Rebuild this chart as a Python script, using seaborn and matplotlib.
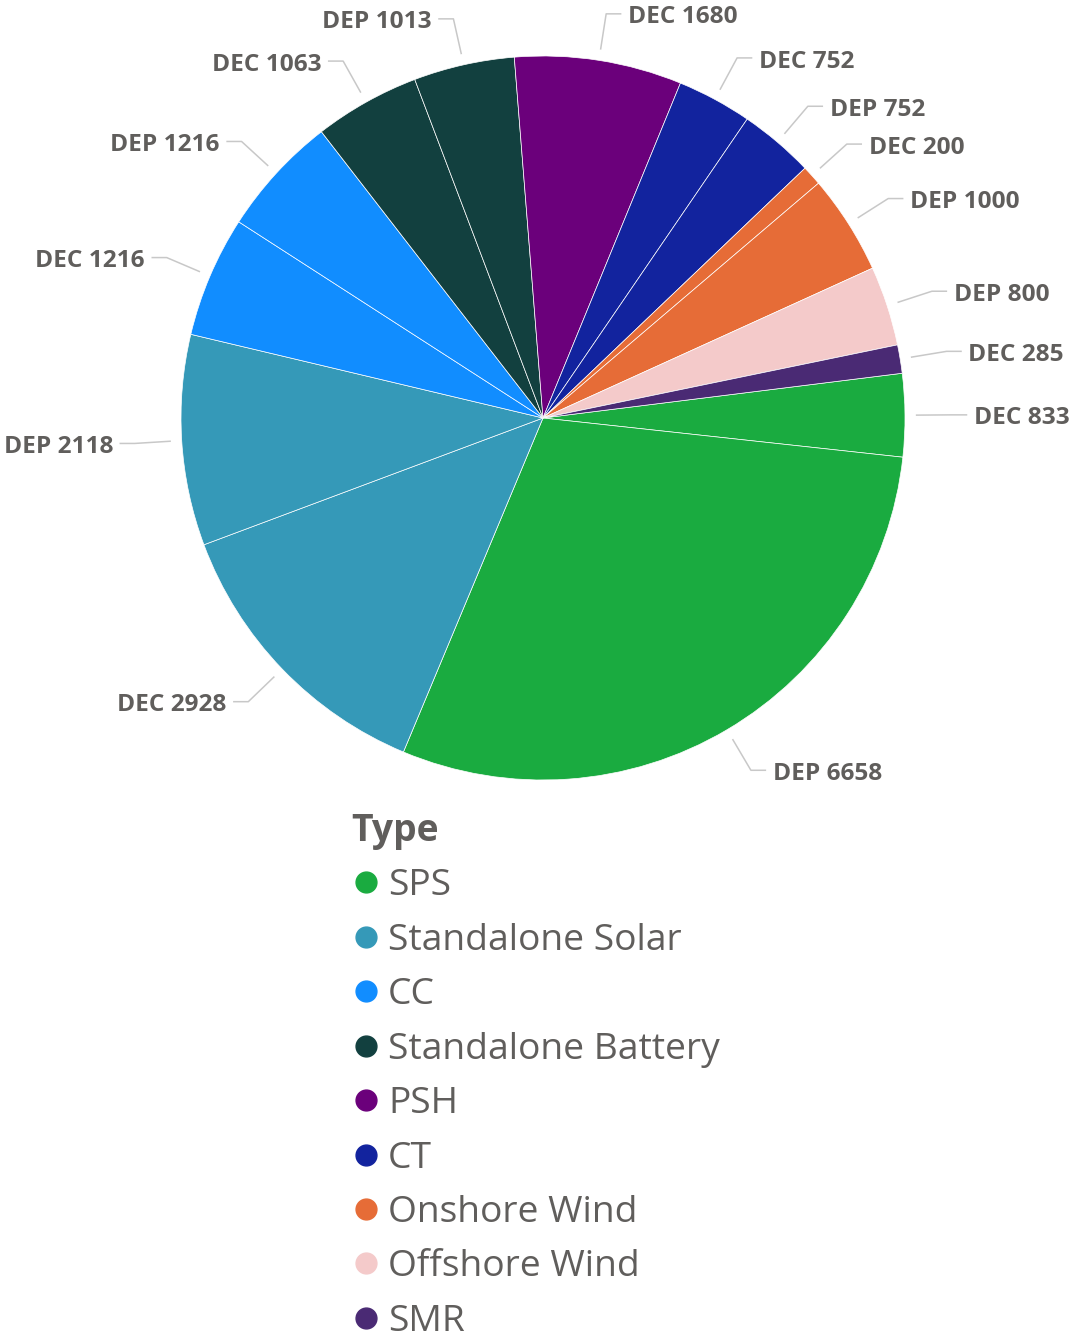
import numpy as np
import matplotlib.pyplot as plt
from matplotlib.lines import Line2D
import seaborn as sns

# %%--  Data
utility = ["DEC", "DEP", "DEC", "DEP", "DEC", "DEP", "DEC", "DEP",
           "DEC", "DEC", "DEP", "DEC", "DEP", "DEP", "DEC"]
mw = [833, 6658, 2928, 2118, 1216, 1216, 1063, 1013,
      1680, 752, 752, 200, 1000, 800, 285]
tech = ["SPS", "SPS", "Standalone Solar", "Standalone Solar", "CC", "CC",
        "Standalone Battery", "Standalone Battery", "PSH", "CT", "CT",
        "Onshore Wind", "Onshore Wind", "Offshore Wind", "SMR"]
type_order = ["SPS", "Standalone Solar", "CC", "Standalone Battery", "PSH",
              "CT", "Onshore Wind", "Offshore Wind", "SMR"]
type_colors = ["#1AAB40", "#3599B8", "#118DFF", "#12403F", "#6B007B",
               "#12239E", "#E66C37", "#F4CACA", "#4A2A74"]
# %%-

# %%--  Settings
sns.set_theme(style="white")
plt.rcParams['font.family'] = ['Open Sans', 'DejaVu Sans']
TXT = "#605E5C"
W, H = 1071, 1336
CX, CY, R = 543, 418, 362   # pie centre / radius in px
# %%-

pal = dict(zip(type_order, type_colors))
colors = [pal[t] for t in tech]

fig = plt.figure(figsize=(W / 100, H / 100), dpi=100)
ax = fig.add_axes([0, 0, 1, 1])

wedges, _ = ax.pie(mw, colors=colors, startangle=7.1, counterclock=False,
                   radius=1, wedgeprops=dict(edgecolor='white', linewidth=0.5))
ax.set_xlim(-CX / R, (W - CX) / R)
ax.set_ylim(-(H - CY) / R, CY / R)
ax.set_aspect('equal', adjustable='datalim')
ax.axis('off')

#   Leader lines and data labels
for w, u, v in zip(wedges, utility, mw):
    ang = np.deg2rad((w.theta1 + w.theta2) / 2)
    c, s = np.cos(ang), np.sin(ang)
    side = 1 if c >= 0 else -1
    x0, y0 = 1.03 * c, 1.03 * s
    x1, y1 = 1.13 * c, 1.13 * s
    x2 = x1 + side * 0.042
    ax.plot([x0, x1, x2], [y0, y1, y1], color="#C8C8C8", lw=1.1,
            solid_capstyle='butt')
    ax.text(x2 + side * 0.018, y1 - 0.01, f"{u} {v}",
            ha='left' if side > 0 else 'right', va='center',
            fontsize=17.6, fontweight='bold', color=TXT)

#   Legend
handles = [Line2D([], [], marker='o', linestyle='', markersize=15,
                  markerfacecolor=c, markeredgecolor=c) for c in type_colors]
leg = fig.legend(handles, type_order, title="Type", loc='upper left',
                 bbox_to_anchor=(351 / W, 1 - 812 / H), frameon=False,
                 fontsize=26.8, title_fontsize=26.8, labelspacing=0.495,
                 handlelength=0.8, handletextpad=0.2, borderaxespad=0,
                 borderpad=0)
leg._legend_box.align = "left"
leg.get_title().set_fontweight('bold')
leg.get_title().set_color(TXT)
for t in leg.get_texts():
    t.set_color(TXT)

plt.savefig("out.png", dpi=100)
